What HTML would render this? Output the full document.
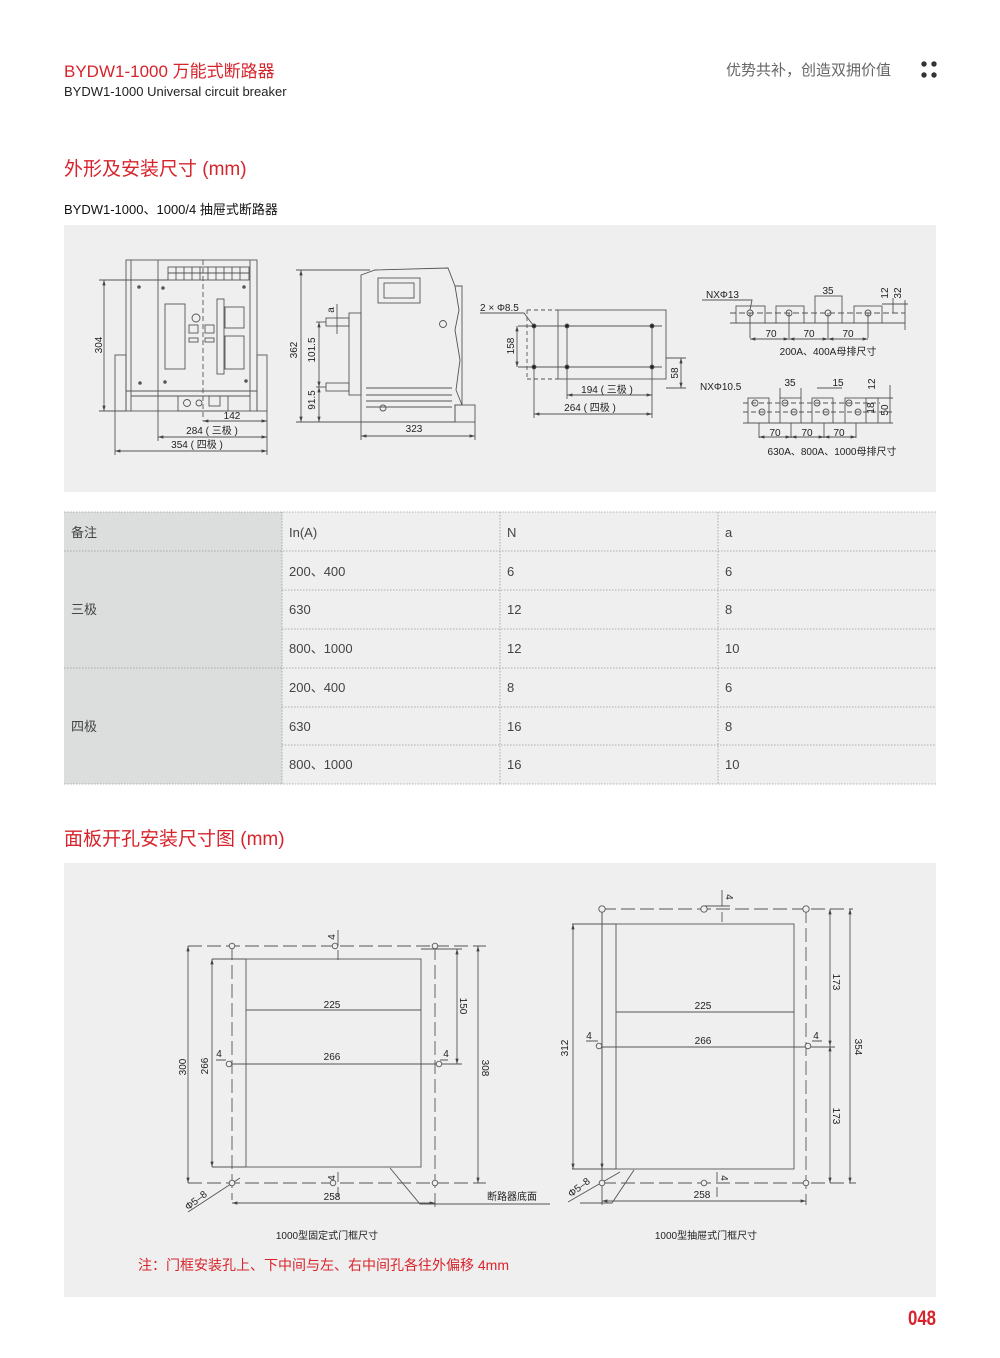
<!DOCTYPE html>
<html><head><meta charset="utf-8">
<style>
html,body{margin:0;padding:0;background:#fff;}
svg{display:block;}
text{font-family:"Liberation Sans","Noto Sans CJK SC",sans-serif;}
</style></head>
<body>
<svg width="1000" height="1358" viewBox="0 0 1000 1358" xmlns="http://www.w3.org/2000/svg">
<defs>
<marker id="a" viewBox="0 0 10 10" refX="10" refY="5" markerWidth="6" markerHeight="6" orient="auto-start-reverse"><path d="M0,2 L10,5 L0,8 z" fill="#444"/></marker>
</defs>
<rect width="1000" height="1358" fill="#fff"/>
<!-- header -->
<text x="64" y="77" font-size="17" fill="#d7242c">BYDW1-1000 万能式断路器</text>
<text x="64" y="96" font-size="13" fill="#222">BYDW1-1000  Universal circuit breaker</text>
<text x="891" y="75" font-size="15" fill="#666" text-anchor="end">优势共补，创造双拥价值</text>
<g fill="#333"><circle cx="924" cy="64" r="2.7"/><circle cx="934" cy="64" r="2.7"/><circle cx="924" cy="75" r="2.7"/><circle cx="934" cy="75" r="2.7"/></g>
<text x="64" y="175" font-size="19" fill="#d7242c">外形及安装尺寸 (mm)</text>
<text x="64" y="214" font-size="13" fill="#111">BYDW1-1000、1000/4 抽屉式断路器</text>

<!-- top panel -->
<rect x="64" y="225" width="872" height="267" fill="#efefef"/>
<g stroke="#555" stroke-width="0.9" fill="none" font-size="10">
<!-- front view -->
<rect x="126" y="260" width="131" height="151"/>
<line x1="131" y1="260" x2="131" y2="411"/>
<line x1="158" y1="260" x2="158" y2="411"/>
<line x1="250" y1="260" x2="250" y2="411"/>
<line x1="203" y1="260" x2="203" y2="421" stroke-dasharray="5,3"/>
<rect x="168" y="267" width="81" height="13"/>
<path d="M176,267v13M184,267v13M192,267v13M200,267v13M208,267v13M216,267v13M224,267v13M232,267v13M240,267v13M168,273h81"/>
<rect x="115" y="355" width="11" height="56"/><rect x="257" y="355" width="10" height="56"/>
<line x1="126" y1="391" x2="257" y2="391"/>
<path d="M131,396h119"/>
<rect x="165" y="304" width="20" height="65"/>
<circle cx="196" cy="318" r="4"/>
<rect x="189" y="325" width="9" height="8"/><rect x="205" y="325" width="9" height="8"/>
<rect x="189" y="338" width="9" height="4"/><rect x="205" y="338" width="9" height="4"/>
<rect x="217" y="299" width="7" height="75"/>
<rect x="225" y="307" width="19" height="21"/><rect x="225" y="336" width="19" height="33"/>
<g fill="#555"><circle cx="139" cy="287" r="1.3"/><circle cx="163" cy="288" r="1.3"/><circle cx="244" cy="287" r="1.3"/><circle cx="140" cy="383" r="1.3"/><circle cx="165" cy="382" r="1.3"/><circle cx="246" cy="381" r="1.3"/></g>
<rect x="178" y="396" width="50" height="15"/>
<circle cx="187" cy="403" r="3.5"/><circle cx="199" cy="403" r="3"/>
<rect x="209" y="396" width="11" height="10"/>
<line x1="99" y1="280" x2="168" y2="280"/>
<line x1="99" y1="411" x2="126" y2="411"/>
<line x1="104" y1="280" x2="104" y2="411" marker-start="url(#a)" marker-end="url(#a)"/>
<line x1="203" y1="421" x2="267" y2="421" marker-start="url(#a)" marker-end="url(#a)"/>
<line x1="158" y1="411" x2="158" y2="441"/><line x1="267" y1="411" x2="267" y2="455"/><line x1="115" y1="411" x2="115" y2="455"/>
<line x1="158" y1="437" x2="267" y2="437" marker-start="url(#a)" marker-end="url(#a)"/>
<line x1="115" y1="451" x2="267" y2="451" marker-start="url(#a)" marker-end="url(#a)"/>

<!-- side view -->
<path d="M361,275 L375,270 L448,268 L455,286 L462,286 L462,405 L455,405 L455,422 L361,422 Z"/>
<path d="M455,286 L459,310 L455,330 L460,360 L456,390 L462,405"/>
<rect x="378" y="278" width="42" height="25"/><rect x="384" y="283" width="30" height="15"/>
<circle cx="443" cy="324" r="3.5"/>
<rect x="349" y="313" width="12" height="82"/>
<rect x="326" y="318" width="23" height="8"/><rect x="326" y="383" width="23" height="8"/>
<path d="M366,388h86M366,395h86M366,401h86M366,407h86"/>
<circle cx="383" cy="408" r="3"/>
<rect x="455" y="405" width="20" height="17"/>
<line x1="296" y1="270" x2="370" y2="270"/><line x1="296" y1="422" x2="361" y2="422"/>
<line x1="301" y1="270" x2="301" y2="422" marker-start="url(#a)" marker-end="url(#a)"/>
<line x1="316" y1="322" x2="326" y2="322"/><line x1="316" y1="387" x2="326" y2="387"/>
<line x1="319" y1="322" x2="319" y2="387" marker-start="url(#a)" marker-end="url(#a)"/>
<line x1="319" y1="387" x2="319" y2="422" marker-start="url(#a)" marker-end="url(#a)"/>
<line x1="337" y1="304" x2="337" y2="334"/>
<line x1="361" y1="422" x2="361" y2="440"/><line x1="475" y1="422" x2="475" y2="440"/>
<line x1="361" y1="436" x2="475" y2="436" marker-start="url(#a)" marker-end="url(#a)"/>

<!-- hole plan -->
<rect x="558" y="310" width="108" height="69"/>
<path d="M527,310h31M527,379h31M527,310v69" stroke-dasharray="4,3"/>
<line x1="518" y1="326" x2="662" y2="326"/><line x1="518" y1="367" x2="662" y2="367"/>
<line x1="534" y1="326" x2="534" y2="418"/><line x1="567" y1="326" x2="567" y2="399"/><line x1="652" y1="326" x2="652" y2="418"/>
<g fill="#222"><circle cx="534" cy="326" r="2"/><circle cx="567" cy="326" r="2"/><circle cx="652" cy="326" r="2"/><circle cx="534" cy="367" r="2"/><circle cx="567" cy="367" r="2"/><circle cx="652" cy="367" r="2"/></g>
<line x1="517" y1="326" x2="517" y2="367" marker-start="url(#a)" marker-end="url(#a)"/>
<line x1="666" y1="358" x2="686" y2="358"/><line x1="666" y1="388" x2="686" y2="388"/>
<line x1="681" y1="358" x2="681" y2="388" marker-start="url(#a)" marker-end="url(#a)"/>
<line x1="567" y1="395" x2="652" y2="395" marker-start="url(#a)" marker-end="url(#a)"/>
<line x1="534" y1="414" x2="652" y2="414" marker-start="url(#a)" marker-end="url(#a)"/>
<path d="M480,313h44l9,12"/>

<!-- busbar top -->
<rect x="736" y="306" width="29" height="17"/><rect x="776" y="306" width="28" height="17"/><rect x="815" y="296" width="27" height="27"/><rect x="854" y="306" width="28" height="17"/>
<line x1="730" y1="323" x2="905" y2="323"/>
<line x1="730" y1="313" x2="905" y2="313" stroke-dasharray="6,3"/>
<g><circle cx="750" cy="313" r="3"/><circle cx="789" cy="313" r="3"/><circle cx="828" cy="313" r="3"/><circle cx="868" cy="313" r="3"/></g>
<path d="M750,313v25M789,313v25M828,313v25M868,313v25"/>
<line x1="750" y1="339" x2="789" y2="339" marker-start="url(#a)" marker-end="url(#a)"/>
<line x1="789" y1="339" x2="828" y2="339" marker-start="url(#a)" marker-end="url(#a)"/>
<line x1="828" y1="339" x2="868" y2="339" marker-start="url(#a)" marker-end="url(#a)"/>
<path d="M702,300h50l-2,10"/>
<line x1="882" y1="304" x2="908" y2="304"/>
<line x1="893" y1="298" x2="893" y2="313"/><line x1="905" y1="300" x2="905" y2="330"/>
<!-- busbar bottom -->
<rect x="748" y="398" width="21" height="25"/><rect x="780" y="398" width="21" height="25"/><rect x="812" y="398" width="21" height="25"/><rect x="845" y="398" width="21" height="25"/>
<line x1="866" y1="398" x2="893" y2="398"/><line x1="743" y1="423" x2="893" y2="423"/>
<line x1="743" y1="412" x2="893" y2="412" stroke-dasharray="5,3"/>
<line x1="743" y1="403" x2="880" y2="403" stroke-dasharray="5,3"/>
<g><circle cx="755" cy="403" r="3"/><circle cx="785" cy="403" r="3"/><circle cx="817" cy="403" r="3"/><circle cx="849" cy="403" r="3"/><circle cx="762" cy="412" r="3"/><circle cx="794" cy="412" r="3"/><circle cx="826" cy="412" r="3"/><circle cx="858" cy="412" r="3"/></g>
<path d="M759,423v15M791,423v15M824,423v15M856,423v15"/>
<line x1="759" y1="437" x2="791" y2="437" marker-start="url(#a)" marker-end="url(#a)"/>
<line x1="791" y1="437" x2="824" y2="437" marker-start="url(#a)" marker-end="url(#a)"/>
<line x1="824" y1="437" x2="856" y2="437" marker-start="url(#a)" marker-end="url(#a)"/>
<path d="M780,388v10M801,388v10M817,388h25M890,385v38M878,398v25"/>
</g>
<g font-size="10" fill="#222">
<text x="102" y="345" transform="rotate(-90 102 345)" text-anchor="middle">304</text>
<text x="232" y="419" text-anchor="middle">142</text>
<text x="212" y="434" text-anchor="middle">284 ( 三极 )</text>
<text x="197" y="448" text-anchor="middle">354 ( 四极 )</text>
<text x="297" y="350" transform="rotate(-90 297 350)" text-anchor="middle">362</text>
<text x="315" y="350" transform="rotate(-90 315 350)" text-anchor="middle">101.5</text>
<text x="315" y="400" transform="rotate(-90 315 400)" text-anchor="middle">91.5</text>
<text x="334" y="310" transform="rotate(-90 334 310)" text-anchor="middle">a</text>
<text x="414" y="432" text-anchor="middle">323</text>
<text x="480" y="311">2 × Φ8.5</text>
<text x="514" y="346" transform="rotate(-90 514 346)" text-anchor="middle">158</text>
<text x="678" y="373" transform="rotate(-90 678 373)" text-anchor="middle">58</text>
<text x="607" y="393" text-anchor="middle">194 ( 三极 )</text>
<text x="590" y="411" text-anchor="middle">264 ( 四极 )</text>
<text x="706" y="298">NXΦ13</text>
<text x="828" y="294" text-anchor="middle">35</text>
<text x="888" y="293" transform="rotate(-90 888 293)" text-anchor="middle">12</text>
<text x="901" y="293" transform="rotate(-90 901 293)" text-anchor="middle">32</text>
<text x="771" y="337" text-anchor="middle">70</text>
<text x="809" y="337" text-anchor="middle">70</text>
<text x="848" y="337" text-anchor="middle">70</text>
<text x="828" y="355" text-anchor="middle">200A、400A母排尺寸</text>
<text x="700" y="390">NXΦ10.5</text>
<text x="790" y="386" text-anchor="middle">35</text>
<text x="838" y="386" text-anchor="middle">15</text>
<text x="875" y="384" transform="rotate(-90 875 384)" text-anchor="middle">12</text>
<text x="874" y="408" transform="rotate(-90 874 408)" text-anchor="middle">18</text>
<text x="888" y="410" transform="rotate(-90 888 410)" text-anchor="middle">50</text>
<text x="775" y="436" text-anchor="middle">70</text>
<text x="807" y="436" text-anchor="middle">70</text>
<text x="839" y="436" text-anchor="middle">70</text>
<text x="832" y="455" text-anchor="middle">630A、800A、1000母排尺寸</text>
</g>

<!-- table -->
<rect x="64" y="512" width="218" height="272" fill="#dcdddd"/>
<rect x="282" y="512" width="654" height="272" fill="#efefef"/>
<g stroke="#999" stroke-width="0.8" stroke-dasharray="1.5,1.5">
<line x1="64" y1="512" x2="936" y2="512"/>
<line x1="64" y1="551" x2="936" y2="551"/>
<line x1="282" y1="590" x2="936" y2="590"/>
<line x1="282" y1="629" x2="936" y2="629"/>
<line x1="64" y1="668" x2="936" y2="668"/>
<line x1="282" y1="707" x2="936" y2="707"/>
<line x1="282" y1="745" x2="936" y2="745"/>
<line x1="64" y1="784" x2="936" y2="784"/>
<line x1="282" y1="512" x2="282" y2="784"/>
<line x1="500" y1="512" x2="500" y2="784"/>
<line x1="718" y1="512" x2="718" y2="784"/>
</g>
<g font-size="13" fill="#444">
<text x="71" y="537">备注</text><text x="289" y="537">In(A)</text><text x="507" y="537">N</text><text x="725" y="537">a</text>
<text x="289" y="576">200、400</text><text x="507" y="576">6</text><text x="725" y="576">6</text>
<text x="71" y="614">三极</text>
<text x="289" y="614">630</text><text x="507" y="614">12</text><text x="725" y="614">8</text>
<text x="289" y="653">800、1000</text><text x="507" y="653">12</text><text x="725" y="653">10</text>
<text x="289" y="692">200、400</text><text x="507" y="692">8</text><text x="725" y="692">6</text>
<text x="71" y="731">四极</text>
<text x="289" y="731">630</text><text x="507" y="731">16</text><text x="725" y="731">8</text>
<text x="289" y="769">800、1000</text><text x="507" y="769">16</text><text x="725" y="769">10</text>
</g>

<text x="64" y="845" font-size="19" fill="#d7242c">面板开孔安装尺寸图 (mm)</text>
<rect x="64" y="863" width="872" height="434" fill="#efefef"/>

<g stroke="#555" stroke-width="0.9" fill="none">
<!-- left frame -->
<path d="M188,946H486M188,1183H486M232,946V1200M435,946V1210" stroke-dasharray="14,5"/>
<rect x="246" y="959" width="175" height="208"/>
<line x1="212" y1="959" x2="246" y2="959"/><line x1="212" y1="1167" x2="246" y2="1167"/>
<line x1="246" y1="1010" x2="421" y2="1010"/>
<line x1="229" y1="1064" x2="440" y2="1064"/>
<line x1="421" y1="1064" x2="462" y2="1064"/><line x1="421" y1="949" x2="462" y2="949"/>
<line x1="188" y1="946" x2="188" y2="1183" marker-start="url(#a)" marker-end="url(#a)"/>
<line x1="212" y1="959" x2="212" y2="1167" marker-start="url(#a)" marker-end="url(#a)"/>
<line x1="457" y1="949" x2="457" y2="1064" marker-start="url(#a)" marker-end="url(#a)"/>
<line x1="478" y1="946" x2="478" y2="1183" marker-start="url(#a)" marker-end="url(#a)"/>
<line x1="232" y1="1203" x2="435" y2="1203" marker-start="url(#a)" marker-end="url(#a)"/>
<path d="M338,930v16M338,950v10M216,1060h10M448,1060h-8M338,1172v10M338,1187v10"/>
<path d="M390,1168L420,1204H550"/>
<path d="M188,1212L240,1178"/>
<g fill="#efefef"><circle cx="232" cy="946" r="2.8"/><circle cx="335" cy="946" r="2.8"/><circle cx="435" cy="946" r="2.8"/><circle cx="229" cy="1064" r="2.8"/><circle cx="439" cy="1064" r="2.8"/><circle cx="232" cy="1183" r="2.8"/><circle cx="333" cy="1183" r="2.8"/><circle cx="435" cy="1183" r="2.8"/></g>
<!-- right frame -->
<path d="M602,909H853M602,1183H856M806,909V1205" stroke-dasharray="14,5"/>
<line x1="602" y1="909" x2="602" y2="1205"/>
<rect x="616" y="924" width="178" height="245"/>
<line x1="572" y1="924" x2="616" y2="924"/><line x1="572" y1="1169" x2="616" y2="1169"/>
<line x1="616" y1="1012" x2="794" y2="1012"/>
<line x1="598" y1="1047" x2="835" y2="1047"/>
<line x1="573" y1="924" x2="573" y2="1169" marker-start="url(#a)" marker-end="url(#a)"/>
<line x1="602" y1="909" x2="602" y2="1169" marker-end="url(#a)"/>
<line x1="830" y1="909" x2="830" y2="1046" marker-start="url(#a)" marker-end="url(#a)"/>
<line x1="830" y1="1046" x2="830" y2="1183" marker-start="url(#a)" marker-end="url(#a)"/>
<line x1="850" y1="909" x2="850" y2="1183" marker-start="url(#a)" marker-end="url(#a)"/>
<line x1="602" y1="1201" x2="806" y2="1201" marker-start="url(#a)" marker-end="url(#a)"/>
<path d="M722,890v16M722,912v10M705,906h25M586,1041h12M822,1041h-10M717,1172v10M717,1187v10"/>
<path d="M634,1170L612,1203H580"/>
<path d="M568,1202L620,1172"/>
<g fill="#efefef"><circle cx="602" cy="909" r="3.2"/><circle cx="704" cy="909" r="3.2"/><circle cx="806" cy="909" r="3.2"/><circle cx="599" cy="1046" r="2.8"/><circle cx="808" cy="1046" r="2.8"/><circle cx="602" cy="1183" r="2.8"/><circle cx="704" cy="1183" r="2.8"/><circle cx="806" cy="1183" r="2.8"/></g>
</g>
<g font-size="10" fill="#222">
<text x="332" y="1008" text-anchor="middle">225</text>
<text x="332" y="1060" text-anchor="middle">266</text>
<text x="186" y="1067" transform="rotate(-90 186 1067)" text-anchor="middle">300</text>
<text x="208" y="1066" transform="rotate(-90 208 1066)" text-anchor="middle">266</text>
<text x="460" y="1006" transform="rotate(90 460 1006)" text-anchor="middle">150</text>
<text x="482" y="1068" transform="rotate(90 482 1068)" text-anchor="middle">308</text>
<text x="335" y="937" transform="rotate(-90 335 937)" text-anchor="middle">4</text>
<text x="219" y="1057" text-anchor="middle">4</text>
<text x="446" y="1057" text-anchor="middle">4</text>
<text x="335" y="1178" transform="rotate(-90 335 1178)" text-anchor="middle">4</text>
<text x="332" y="1200" text-anchor="middle">258</text>
<text x="198" y="1203" transform="rotate(-38 198 1203)" text-anchor="middle">Φ5–8</text>
<text x="512" y="1200" text-anchor="middle">断路器底面</text>
<text x="327" y="1239" text-anchor="middle">1000型固定式门框尺寸</text>
<text x="703" y="1009" text-anchor="middle">225</text>
<text x="703" y="1044" text-anchor="middle">266</text>
<text x="568" y="1048" transform="rotate(-90 568 1048)" text-anchor="middle">312</text>
<text x="833" y="982" transform="rotate(90 833 982)" text-anchor="middle">173</text>
<text x="833" y="1116" transform="rotate(90 833 1116)" text-anchor="middle">173</text>
<text x="855" y="1047" transform="rotate(90 855 1047)" text-anchor="middle">354</text>
<text x="726" y="897" transform="rotate(90 726 897)" text-anchor="middle">4</text>
<text x="589" y="1039" text-anchor="middle">4</text>
<text x="816" y="1039" text-anchor="middle">4</text>
<text x="721" y="1178" transform="rotate(90 721 1178)" text-anchor="middle">4</text>
<text x="702" y="1198" text-anchor="middle">258</text>
<text x="581" y="1190" transform="rotate(-38 581 1190)" text-anchor="middle">Φ5–8</text>
<text x="706" y="1239" text-anchor="middle">1000型抽屉式门框尺寸</text>
</g>
<text x="138" y="1270" font-size="14" fill="#d7242c">注：门框安装孔上、下中间与左、右中间孔各往外偏移 4mm</text>
<text x="936" y="1325" font-size="21" font-weight="bold" fill="#d7242c" text-anchor="end" transform="translate(936 0) scale(0.8 1) translate(-936 0)">048</text>
</svg>
</body></html>
